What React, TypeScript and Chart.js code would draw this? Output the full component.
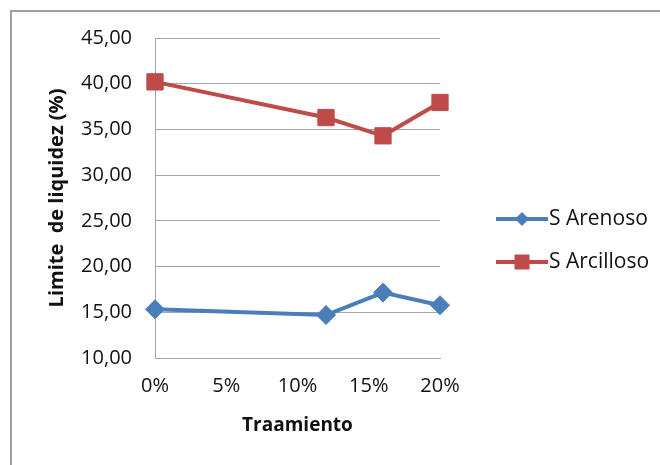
import React, { useEffect, useRef } from "react";
import { Chart, registerables } from "chart.js";

Chart.register(...registerables);

// Treatment level (%) and liquid limit (%) for each soil
const treatments = [0, 12, 16, 20];
const arenoso = [15.33, 14.7, 17.15, 15.77];
const arcilloso = [40.2, 36.3, 34.3, 37.95];
const seriesNames = ["S Arenoso", "S Arcilloso"];
const xTicks = [0, 5, 10, 15, 20];

const BLUE = "#4A7EBB";
const RED = "#BE4B48";
const GRID = "#A6A6A6";
const TEXT = "#111111";
const FONT = "'Open Sans', 'DejaVu Sans', sans-serif";

// Outer frame of the chart object (top and left edges)
const framePlugin = {
  id: "frame",
  beforeDraw(chart: any) {
    const ctx = chart.ctx;
    ctx.save();
    ctx.fillStyle = "#ffffff";
    ctx.fillRect(0, 0, chart.width, chart.height);
    ctx.strokeStyle = "#A0A0A0";
    ctx.lineWidth = 2;
    ctx.beginPath();
    ctx.moveTo(11, chart.height);
    ctx.lineTo(11, 11);
    ctx.lineTo(chart.width, 11);
    ctx.stroke();
    ctx.restore();
  },
};

// Legend with a line-and-marker swatch beside each series name
const legendPlugin = {
  id: "lineLegend",
  afterDraw(chart: any) {
    const ctx = chart.ctx;
    const rows = [219, 262];
    chart.data.datasets.forEach((ds: any, i: number) => {
      const y = rows[i];
      const cx = 522;
      ctx.save();
      ctx.strokeStyle = ds.borderColor;
      ctx.lineWidth = 4;
      ctx.beginPath();
      ctx.moveTo(496, y);
      ctx.lineTo(548, y);
      ctx.stroke();
      ctx.fillStyle = ds.borderColor;
      ctx.beginPath();
      if (ds.pointStyle === "rectRot") {
        const r = 7;
        ctx.moveTo(cx - r, y);
        ctx.lineTo(cx, y - r);
        ctx.lineTo(cx + r, y);
        ctx.lineTo(cx, y + r);
        ctx.closePath();
      } else {
        ctx.rect(cx - 7.5, y - 7.5, 15, 15);
      }
      ctx.fill();
      ctx.fillStyle = TEXT;
      ctx.font = `21px ${FONT}`;
      ctx.textBaseline = "middle";
      ctx.textAlign = "left";
      ctx.fillText(ds.label, 549, y);
      ctx.restore();
    });
  },
};

export default function App() {
  const ref = useRef<HTMLCanvasElement | null>(null);

  useEffect(() => {
    if (!ref.current) return;
    const chart = new Chart(ref.current, {
      type: "line",
      data: {
        datasets: [
          {
            label: seriesNames[0],
            data: treatments.map((x, i) => ({ x, y: arenoso[i] })),
            borderColor: BLUE,
            backgroundColor: BLUE,
            borderWidth: 4,
            pointStyle: "rectRot",
            pointRadius: 9.5,
            pointBorderWidth: 1,
            pointBackgroundColor: BLUE,
            pointBorderColor: BLUE,
            clip: false,
          },
          {
            label: seriesNames[1],
            data: treatments.map((x, i) => ({ x, y: arcilloso[i] })),
            borderColor: RED,
            backgroundColor: RED,
            borderWidth: 4,
            pointStyle: "rect",
            pointRadius: 11.5,
            pointBorderWidth: 1,
            pointBackgroundColor: RED,
            pointBorderColor: RED,
            clip: false,
          },
        ],
      },
      options: {
        responsive: false,
        animation: false,
        layout: { padding: { left: 0, top: 38, right: 220, bottom: 0 } },
        plugins: {
          legend: { display: false },
          tooltip: { enabled: false },
        },
        scales: {
          x: {
            type: "linear",
            min: 0,
            max: 20,
            afterBuildTicks(scale: any) {
              scale.ticks = xTicks.map((v) => ({ value: v }));
            },
            afterFit(scale: any) {
              scale.height = 465 - 358;
            },
            grid: { display: false, drawTicks: false },
            border: { display: true, color: GRID, width: 1 },
            ticks: {
              padding: 16,
              color: TEXT,
              font: { family: FONT, size: 20 },
              callback: (v: any) => `${v}%`,
            },
            title: {
              display: true,
              text: "Traamiento",
              color: TEXT,
              font: { family: FONT, size: 19, weight: "bold" },
              padding: { top: 0, bottom: 28 },
            },
          },
          y: {
            min: 10,
            max: 45,
            afterFit(scale: any) {
              scale.width = 155;
            },
            grid: { color: GRID, lineWidth: 1, drawTicks: false },
            border: { display: true, color: GRID, width: 1 },
            ticks: {
              stepSize: 5,
              padding: 23,
              color: TEXT,
              font: { family: FONT, size: 20 },
              callback: (v: any) => Number(v).toFixed(2).replace(".", ","),
            },
            title: {
              display: true,
              text: "Limite  de liquidez (%)",
              color: TEXT,
              font: { family: FONT, size: 20, weight: "bold" },
              padding: { top: 45, bottom: 0 },
            },
          },
        },
      },
      plugins: [framePlugin, legendPlugin],
    } as any);
    return () => chart.destroy();
  }, []);

  return (
    <div style={{ position: "absolute", left: 0, top: 0, width: 660, height: 465 }}>
      <canvas ref={ref} width={660} height={465} />
    </div>
  );
}
